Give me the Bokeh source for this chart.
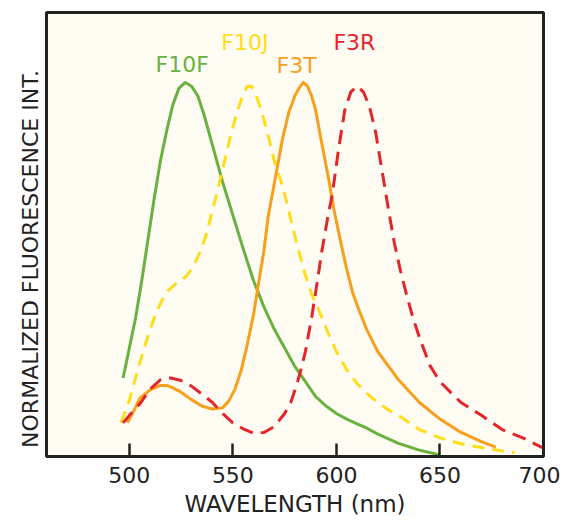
from bokeh.plotting import figure
from bokeh.models import ColumnDataSource, Range1d, FixedTicker
from bokeh.core.properties import value
from bokeh.embed import file_html
from bokeh.resources import INLINE

# ---- data ----
f10f_wl = [497, 500, 503, 506, 509, 512, 515, 518, 521, 524, 527, 530, 533, 536, 540,
           545, 550, 555, 560, 565, 570, 575, 580, 585, 590, 595, 600, 605, 610, 615,
           620, 630, 640, 650]
f10f_val = [0.21, 0.29, 0.37, 0.47, 0.58, 0.69, 0.79, 0.87, 0.94, 0.985, 1.0, 0.99, 0.965,
            0.915, 0.835, 0.735, 0.645, 0.555, 0.47, 0.40, 0.34, 0.29, 0.24, 0.20, 0.16,
            0.135, 0.115, 0.10, 0.087, 0.075, 0.06, 0.035, 0.017, 0.004]

f10j_wl = [496, 500, 505, 510, 513, 516, 519, 522, 525, 528, 531, 534, 537, 540, 543,
           546, 549, 552, 555, 557, 559, 561, 564, 567, 570, 573, 576, 579, 582, 585,
           588, 592, 596, 600, 605, 610, 617, 625, 630, 640, 650, 660, 670, 680, 686]
f10j_val = [0.09, 0.15, 0.25, 0.34, 0.385, 0.42, 0.445, 0.46, 0.47, 0.485, 0.51, 0.545,
            0.59, 0.655, 0.72, 0.79, 0.86, 0.92, 0.97, 0.99, 0.99, 0.97, 0.92, 0.86,
            0.79, 0.74, 0.68, 0.61, 0.545, 0.485, 0.435, 0.385, 0.33, 0.28, 0.232,
            0.195, 0.157, 0.125, 0.11, 0.072, 0.05, 0.034, 0.024, 0.015, 0.01]

f3t_wl = [499, 502, 505, 510, 515, 518, 520, 525, 530, 535, 540, 545, 548, 551, 554,
          557, 560, 562, 565, 567, 569, 571, 574, 577, 580, 582, 584, 586, 588, 590,
          593, 596, 599, 602, 605, 608, 611, 615, 620, 630, 640, 650, 660, 670, 677]
f3t_val = [0.09, 0.12, 0.155, 0.178, 0.19, 0.19, 0.186, 0.172, 0.152, 0.135, 0.127,
           0.13, 0.148, 0.18, 0.23, 0.30, 0.38, 0.45, 0.55, 0.64, 0.70, 0.76, 0.85,
           0.92, 0.965, 0.985, 1.0, 0.99, 0.965, 0.925, 0.835, 0.75, 0.655, 0.575,
           0.50, 0.435, 0.39, 0.335, 0.28, 0.205, 0.145, 0.10, 0.065, 0.04, 0.025]

f3r_wl = [497, 500, 505, 510, 515, 518, 520, 525, 530, 535, 540, 545, 550, 555, 560,
          565, 570, 575, 578, 581, 583, 585, 588, 590, 593, 596, 598, 601, 604, 607,
          610, 613, 616, 619, 622, 625, 628, 631, 634, 637, 640, 645, 650, 660, 670,
          680, 690, 700]
f3r_val = [0.09, 0.11, 0.14, 0.18, 0.205, 0.21, 0.21, 0.203, 0.188, 0.167, 0.145,
           0.115, 0.09, 0.074, 0.062, 0.064, 0.08, 0.115, 0.145, 0.195, 0.235, 0.28,
           0.37, 0.44, 0.55, 0.645, 0.70, 0.82, 0.925, 0.975, 0.99, 0.975, 0.935,
           0.865, 0.765, 0.665, 0.57, 0.495, 0.43, 0.37, 0.32, 0.245, 0.20, 0.145,
           0.11, 0.072, 0.05, 0.022]

names = ["F10F", "F10J", "F3T", "F3R"]
label_wl = [525.5, 555.8, 580.8, 608.7]
label_val = [1.048, 1.106, 1.045, 1.106]
x_ticks = [500, 550, 600, 650, 700]

# ---- styles ----
colors = ["#6ab23f", "#ffdd1a", "#f6a01e", "#e2262b"]
dashes = ["solid", "12 8", "solid", "14 8"]

p = figure(width=560, height=524, output_backend="svg", toolbar_location=None,
           x_range=Range1d(460, 700), y_range=Range1d(0, 1.187),
           min_border_left=46, min_border_right=17, min_border_top=12,
           min_border_bottom=68)
p.background_fill_color = "#fffcf3"
p.border_fill_color = "white"
p.outline_line_color = "#222222"
p.outline_line_width = 3
p.grid.visible = False

series = [(f10f_wl, f10f_val), (f10j_wl, f10j_val), (f3t_wl, f3t_val), (f3r_wl, f3r_val)]
for (wl, vals), c, d in zip(series, colors, dashes):
    src = ColumnDataSource(dict(x=wl, y=vals))
    p.line("x", "y", source=src, line_color=c, line_width=3, line_dash=d,
           line_join="round")

lab_src = ColumnDataSource(dict(x=label_wl, y=label_val, t=names, c=colors))
p.text("x", "y", text="t", source=lab_src, text_color="c", text_align="center",
       text_baseline="middle", text_font=value("DejaVu Sans"), text_font_size="22px")

ax = p.xaxis[0]
ax.ticker = FixedTicker(ticks=x_ticks)
ax.axis_label = "WAVELENGTH (nm)"
ax.axis_label_text_font = "DejaVu Sans"
ax.axis_label_text_font_size = "23px"
ax.axis_label_text_font_style = "normal"
ax.axis_label_text_color = "#222222"
ax.axis_label_standoff = 5
ax.major_label_text_font = "DejaVu Sans"
ax.major_label_text_font_size = "22px"
ax.major_label_text_color = "#222222"
ax.major_label_standoff = 10
ax.major_tick_in = 13
ax.major_tick_out = 0
ax.major_tick_line_width = 2.5
ax.major_tick_line_color = "#222222"
ax.minor_tick_line_color = None
ax.axis_line_width = 3
ax.axis_line_color = "#222222"

ay = p.yaxis[0]
ay.ticker = FixedTicker(ticks=[])
ay.axis_label = "NORMALIZED FLUORESCENCE INT." + "\u00a0" * 7
ay.axis_label_text_font = "DejaVu Sans"
ay.axis_label_text_font_size = "22px"
ay.axis_label_text_font_style = "normal"
ay.axis_label_text_color = "#222222"
ay.axis_label_standoff = 4
ay.major_tick_line_color = None
ay.minor_tick_line_color = None
ay.axis_line_color = None

open("out.html", "w").write(file_html(p, INLINE))
